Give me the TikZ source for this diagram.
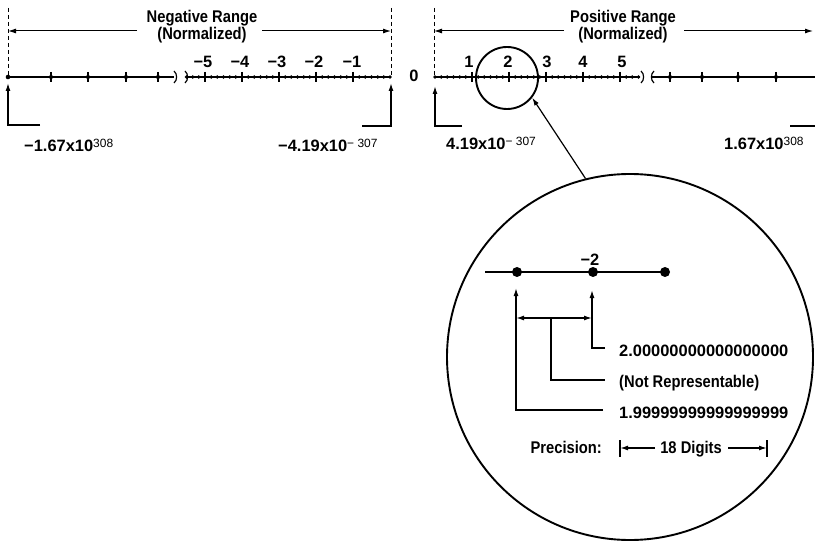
\documentclass[tikz,border=0pt]{standalone}
\usepackage{fontspec}
\setmainfont{Liberation Sans}[FakeStretch=0.87]
\newfontfamily\digfont{Liberation Sans}
\usetikzlibrary{arrows.meta}
\newcommand{\supx}[1]{\raisebox{4.8bp}{\fontsize{12}{12}\selectfont\mdseries #1}}
\tikzset{
  lbl/.style={font=\fontsize{17}{19}\selectfont\bfseries, inner sep=0pt},
  num/.style={font=\fontsize{16.5}{19}\selectfont\bfseries\digfont, inner sep=0pt},
  axisline/.style={line width=1.4bp},
  dashline/.style={line width=1bp, dash pattern=on 4bp off 3bp},
  conn/.style={line width=1.4bp},
  tip/.style={-{Latex[length=8bp,width=5bp]}},
  ring/.style={circle, draw, line width=1.9bp, inner sep=0pt},
}
\begin{document}
\begin{tikzpicture}[x=1bp,y=-1bp]
\useasboundingbox (0,0) rectangle (815,542);
% ---------- range headers ----------
\node[lbl, anchor=base] (negT) at (202,23) {Negative Range};
\node[lbl, anchor=base] (negN) at (202,40) {(Normalized)};
\node[lbl, anchor=base] (posT) at (623,23) {Positive Range};
\node[lbl, anchor=base] (posN) at (623,40) {(Normalized)};
\coordinate (nL) at (8,31); \coordinate (nLa) at (137,31);
\coordinate (nR) at (391,31); \coordinate (nRa) at (262,31);
\coordinate (pL) at (434,31); \coordinate (pLa) at (564,31);
\coordinate (pR) at (813,31); \coordinate (pRa) at (684,31);
\draw[conn, line width=1bp, tip] (nLa) -- (nL);
\draw[conn, line width=1bp, tip] (nRa) -- (nR);
\draw[conn, line width=1bp, tip] (pLa) -- (pL);
\draw[conn, line width=1bp, tip] (pRa) -- (pR);
% dashed boundaries
\coordinate (d1t) at (8,8);   \coordinate (d1b) at (8,77);
\coordinate (d2t) at (391,8); \coordinate (d2b) at (391,77);
\coordinate (d3t) at (434,8); \coordinate (d3b) at (434,77);
\draw[dashline] (d1t) -- (d1b);
\draw[dashline] (d2t) -- (d2b);
\draw[dashline] (d3t) -- (d3b);
% ---------- axis: negative side ----------
\draw[axisline] (8,77) -- (174,77);
\fill (8,77) circle (2.3bp);
\foreach \x in {51,88,126,158} {\draw[line width=1.2bp] (\x,72) -- (\x,82); \fill (\x,77) circle (2.1bp);}
\draw[line width=1.2bp] (174,71) .. controls (177.5,74) and (177.5,80) .. (174,83);
\draw[line width=1.2bp] (185,71) .. controls (188.5,74) and (188.5,80) .. (185,83);
\draw[axisline] (187,77) -- (391,77);
\foreach \n in {-3,...,30} {\fill ({205+\n*37/6},77) circle (1.9bp);}
\foreach \x in {205,242,279,316,353} {\draw[line width=1.2bp] (\x,72) -- (\x,82);}
\foreach \x/\t in {203/5,240/4,277/3,314/2,352/1} {\node[num, anchor=base] (nlab\t) at (\x,68) {−\t};}
\node[num, anchor=base] (zero) at (414,82) {0};
% ---------- axis: positive side ----------
\draw[axisline] (434,77) -- (640,77);
\foreach \n in {-6,...,27} {\fill ({472+\n*37/6},77) circle (1.9bp);}
\foreach \x in {472,509,546,583,620} {\draw[line width=1.2bp] (\x,72) -- (\x,82);}
\foreach \x/\t in {469/1,508/2,547/3,583/4,622/5} {\node[num, anchor=base] (plab\t) at (\x,68) {\t};}
\draw[line width=1.2bp] (641,71) .. controls (644.5,74) and (644.5,80) .. (641,83);
\draw[line width=1.2bp] (654,71) .. controls (650.5,74) and (650.5,80) .. (654,83);
\draw[axisline] (652,77) -- (815,77);
\foreach \x in {670,702,738,776} {\draw[line width=1.2bp] (\x,72) -- (\x,82); \fill (\x,77) circle (2.1bp);}
% ---------- end markers ----------
\coordinate (m1a) at (8,83);   \coordinate (m1b) at (8,125);   \coordinate (m1c) at (40,125);
\coordinate (m2a) at (391,83); \coordinate (m2b) at (391,126); \coordinate (m2c) at (362,126);
\coordinate (m3a) at (435,86); \coordinate (m3b) at (435,126); \coordinate (m3c) at (462,126);
\coordinate (m4b) at (790,126); \coordinate (m4c) at (815,126);
\draw[conn, tip] (m1c) -- (m1b) -- (m1a);
\draw[conn, tip] (m2c) -- (m2b) -- (m2a);
\draw[conn, tip] (m3c) -- (m3b) -- (m3a);
\draw[conn] (m4b) -- (m4c);
\node[num, anchor=base west] (v1) at (24,152) {−1.67x10\supx{308}};
\node[num, anchor=base west] (v2) at (278,152) {−4.19x10\supx{− 307}};
\node[num, anchor=base west] (v3) at (446,150) {4.19x10\supx{− 307}};
\node[num, anchor=base west] (v4) at (724,150) {1.67x10\supx{308}};
% ---------- magnifier ----------
\node[ring, minimum size=62bp] (small) at (507,78) {};
\node[ring, minimum size=366bp] (big) at (630,357) {};
\draw[line width=1.2bp, tip] (big.104) -- (small.-38);
% inside
\draw[axisline, line width=1.8bp] (485,272) -- (665,272);
\foreach \x/\nm in {517/da,593/db,665/dc} {\fill (\x,272) circle (5bp); \coordinate (\nm) at (\x,272);}
\node[num, anchor=base] (mtwo) at (590,266) {−2};
\coordinate (a1t) at (516,288); \coordinate (a1b) at (516,410); \coordinate (a1e) at (603,410);
\coordinate (a2t) at (592,290); \coordinate (a2b) at (592,348); \coordinate (a2e) at (605,348);
\coordinate (hL) at (516,318); \coordinate (hR) at (592,318); \coordinate (hM) at (551,318);
\coordinate (hMb) at (551,380); \coordinate (hMe) at (605,380);
\draw[conn, tip] (a1e) -- (a1b) -- (a1t);
\draw[conn, tip] (a2e) -- (a2b) -- (a2t);
\draw[conn, {Latex[length=8bp,width=5bp]}-{Latex[length=8bp,width=5bp]}] (hL) -- (hR);
\draw[conn] (hM) -- (hMb) -- (hMe);
\node[num, anchor=base west] (t2) at (619,356) {2.00000000000000000};
\node[lbl, anchor=base west] (tn) at (619,387) {(Not Representable)};
\node[num, anchor=base west] (t1) at (619,418) {1.99999999999999999};
\node[lbl, anchor=base east] (prec) at (602,453) {Precision:};
\node[lbl, anchor=base] (dig) at (691,453) {18 Digits};
\coordinate (pb1t) at (620,440); \coordinate (pb1b) at (620,457); \coordinate (pb1) at (620,448);
\coordinate (pb2t) at (767,440); \coordinate (pb2b) at (767,457); \coordinate (pb2) at (767,448);
\coordinate (pa1) at (655,448); \coordinate (pa2) at (728,448);
\draw[conn] (pb1t) -- (pb1b);
\draw[conn] (pb2t) -- (pb2b);
\draw[conn, tip] (pa1) -- (pb1);
\draw[conn, tip] (pa2) -- (pb2);
\end{tikzpicture}
\end{document}
